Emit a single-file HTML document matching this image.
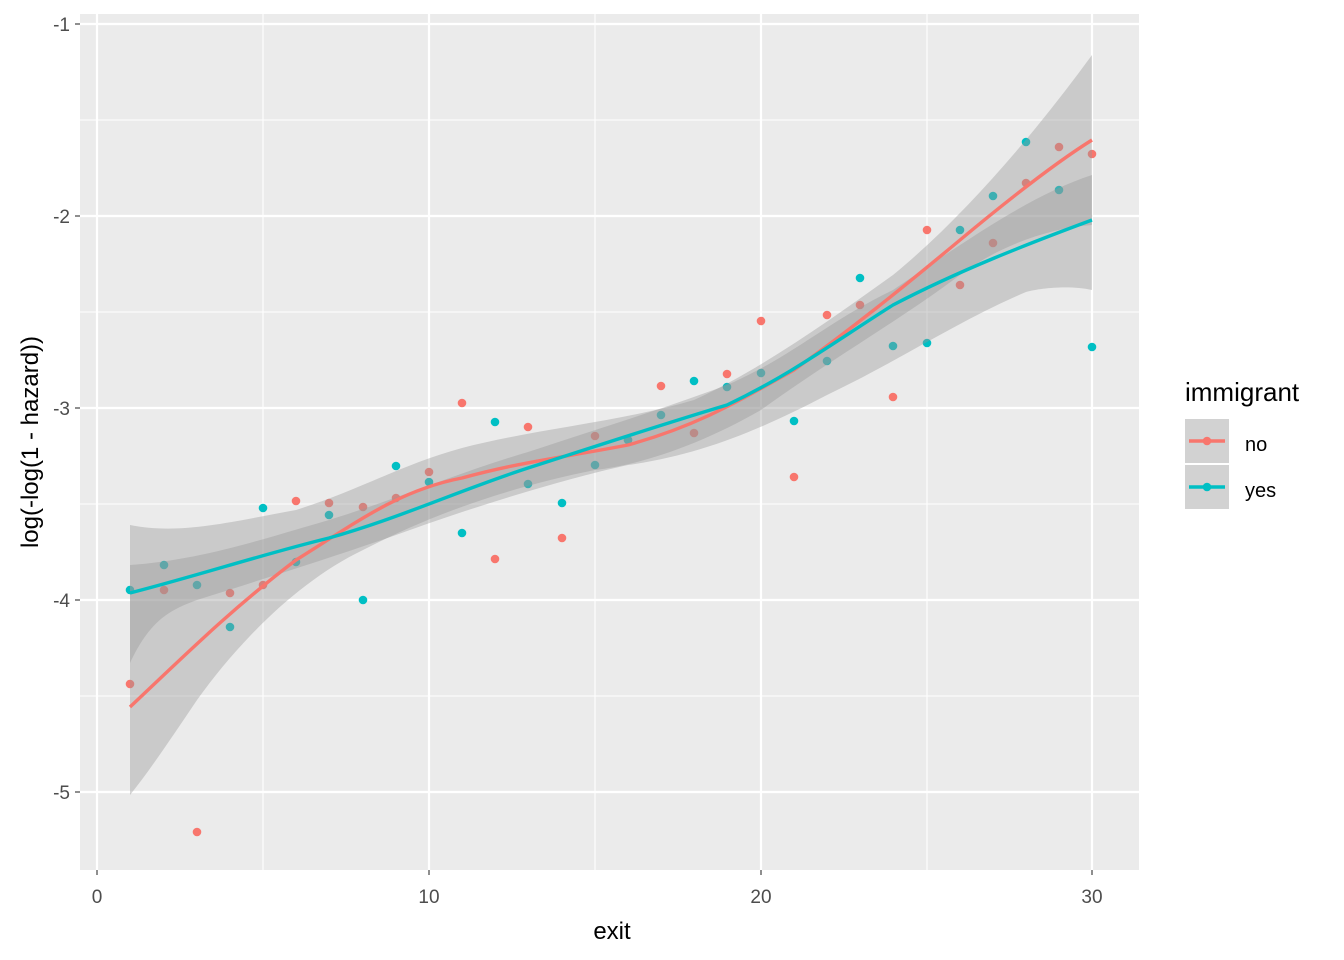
<!DOCTYPE html>
<html><head><meta charset="utf-8"><style>body{margin:0;background:#fff}svg{display:block;font-family:"Liberation Sans",sans-serif}</style></head><body>
<svg width="1344" height="960" viewBox="0 0 1344 960">
<rect x="80" y="14" width="1059" height="856" fill="#EBEBEB"/>
<g stroke="#fff" stroke-width="1.1">
<line x1="263" y1="14" x2="263" y2="870"/><line x1="595" y1="14" x2="595" y2="870"/><line x1="927" y1="14" x2="927" y2="870"/>
<line x1="80" y1="120" x2="1139" y2="120"/><line x1="80" y1="312" x2="1139" y2="312"/><line x1="80" y1="504" x2="1139" y2="504"/><line x1="80" y1="696" x2="1139" y2="696"/>
</g>
<g stroke="#fff" stroke-width="2.2">
<line x1="97" y1="14" x2="97" y2="870"/><line x1="429" y1="14" x2="429" y2="870"/><line x1="761" y1="14" x2="761" y2="870"/><line x1="1092" y1="14" x2="1092" y2="870"/>
<line x1="80" y1="24" x2="1139" y2="24"/><line x1="80" y1="216" x2="1139" y2="216"/><line x1="80" y1="408" x2="1139" y2="408"/><line x1="80" y1="600" x2="1139" y2="600"/><line x1="80" y1="792" x2="1139" y2="792"/>
</g>
<g id="pts">
<g fill="#F8766D">
<circle cx="130" cy="684" r="4.3"/><circle cx="164" cy="590" r="4.3"/><circle cx="197" cy="832" r="4.3"/><circle cx="230" cy="593" r="4.3"/><circle cx="263" cy="585" r="4.3"/><circle cx="296" cy="501" r="4.3"/><circle cx="329" cy="503" r="4.3"/><circle cx="363" cy="507" r="4.3"/><circle cx="396" cy="498" r="4.3"/><circle cx="429" cy="472" r="4.3"/><circle cx="462" cy="403" r="4.3"/><circle cx="495" cy="559" r="4.3"/><circle cx="528" cy="427" r="4.3"/><circle cx="562" cy="538" r="4.3"/><circle cx="595" cy="436" r="4.3"/><circle cx="628" cy="440" r="4.3"/><circle cx="661" cy="386" r="4.3"/><circle cx="694" cy="433" r="4.3"/><circle cx="727" cy="374" r="4.3"/><circle cx="761" cy="321" r="4.3"/><circle cx="794" cy="477" r="4.3"/><circle cx="827" cy="315" r="4.3"/><circle cx="860" cy="305" r="4.3"/><circle cx="893" cy="397" r="4.3"/><circle cx="927" cy="230" r="4.3"/><circle cx="960" cy="285" r="4.3"/><circle cx="993" cy="243" r="4.3"/><circle cx="1026" cy="183" r="4.3"/><circle cx="1059" cy="147" r="4.3"/><circle cx="1092" cy="154" r="4.3"/>
</g>
<g fill="#00BFC4">
<circle cx="130" cy="590" r="4.3"/><circle cx="164" cy="565" r="4.3"/><circle cx="197" cy="585" r="4.3"/><circle cx="230" cy="627" r="4.3"/><circle cx="263" cy="508" r="4.3"/><circle cx="296" cy="562" r="4.3"/><circle cx="329" cy="515" r="4.3"/><circle cx="363" cy="600" r="4.3"/><circle cx="396" cy="466" r="4.3"/><circle cx="429" cy="482" r="4.3"/><circle cx="462" cy="533" r="4.3"/><circle cx="495" cy="422" r="4.3"/><circle cx="528" cy="484" r="4.3"/><circle cx="562" cy="503" r="4.3"/><circle cx="595" cy="465" r="4.3"/><circle cx="628" cy="440" r="4.3"/><circle cx="661" cy="415" r="4.3"/><circle cx="694" cy="381" r="4.3"/><circle cx="727" cy="387" r="4.3"/><circle cx="761" cy="373" r="4.3"/><circle cx="794" cy="421" r="4.3"/><circle cx="827" cy="361" r="4.3"/><circle cx="860" cy="278" r="4.3"/><circle cx="893" cy="346" r="4.3"/><circle cx="927" cy="343" r="4.3"/><circle cx="960" cy="230" r="4.3"/><circle cx="993" cy="196" r="4.3"/><circle cx="1026" cy="142" r="4.3"/><circle cx="1059" cy="190" r="4.3"/><circle cx="1092" cy="347" r="4.3"/>
</g>
</g>
<g fill="#999" fill-opacity="0.4">
<path d="M130,525 C180,535 230,522 296,510 C360,490 400,465 462,448 C540,428 620,422 694,400 C760,370 830,320 893,275 C960,220 1030,140 1092,55 L1092,225 C1050,228 1000,245 960,275 C900,320 830,360 761,410 C700,445 640,465 595,470 C520,485 440,510 363,550 C300,580 240,640 197,700 C170,740 150,770 130,795 Z"/>
<path d="M130,565 C200,560 260,540 329,520 C400,498 460,472 528,452 C600,428 660,410 727,385 C790,358 830,320 893,290 C960,245 1030,195 1092,175 L1092,290 C1070,285 1040,288 1026,292 C960,320 900,360 827,395 C760,430 700,455 628,465 C560,480 470,508 396,535 C330,558 260,580 197,600 C170,610 150,620 130,663 Z"/>
</g>
<path d="M130,707 C180,660 230,610 296,560 C360,520 400,490 462,478 C520,462 560,458 628,445 C700,425 740,400 794,370 C850,330 900,290 960,240 C1020,190 1060,160 1092,140" fill="none" stroke="#F8766D" stroke-width="3.4"/>
<path d="M130,593 C200,575 260,555 329,538 C400,518 460,490 528,468 C600,445 660,425 727,405 C790,375 830,345 893,305 C960,270 1030,243 1092,220" fill="none" stroke="#00BFC4" stroke-width="3.4"/>
<g stroke="#333" stroke-width="1.1">
<line x1="75" y1="24" x2="80" y2="24"/><line x1="75" y1="216" x2="80" y2="216"/><line x1="75" y1="408" x2="80" y2="408"/><line x1="75" y1="600" x2="80" y2="600"/><line x1="75" y1="792" x2="80" y2="792"/>
<line x1="97" y1="870" x2="97" y2="875"/><line x1="429" y1="870" x2="429" y2="875"/><line x1="761" y1="870" x2="761" y2="875"/><line x1="1092" y1="870" x2="1092" y2="875"/>
</g>
<g fill="#4D4D4D" font-size="19" text-anchor="end">
<text x="70" y="31">-1</text><text x="70" y="223">-2</text><text x="70" y="415">-3</text><text x="70" y="607">-4</text><text x="70" y="799">-5</text>
</g>
<g fill="#4D4D4D" font-size="19" text-anchor="middle">
<text x="97" y="903">0</text><text x="429" y="903">10</text><text x="761" y="903">20</text><text x="1092" y="903">30</text>
</g>
<text x="612" y="939" font-size="24" text-anchor="middle">exit</text>
<text transform="translate(38,442) rotate(-90)" font-size="24" text-anchor="middle">log(-log(1 - hazard))</text>
<text x="1185" y="401" font-size="26">immigrant</text>
<rect x="1185" y="419" width="44" height="44" fill="#D2D2D2"/>
<rect x="1185" y="465" width="44" height="44" fill="#D2D2D2"/>
<line x1="1189" y1="441" x2="1225" y2="441" stroke="#F8766D" stroke-width="3.4"/><circle cx="1207" cy="441" r="4.3" fill="#F8766D"/>
<line x1="1189" y1="487" x2="1225" y2="487" stroke="#00BFC4" stroke-width="3.4"/><circle cx="1207" cy="487" r="4.3" fill="#00BFC4"/>
<text x="1245" y="451" font-size="20">no</text><text x="1245" y="497" font-size="20">yes</text>
</svg>
</body></html>
